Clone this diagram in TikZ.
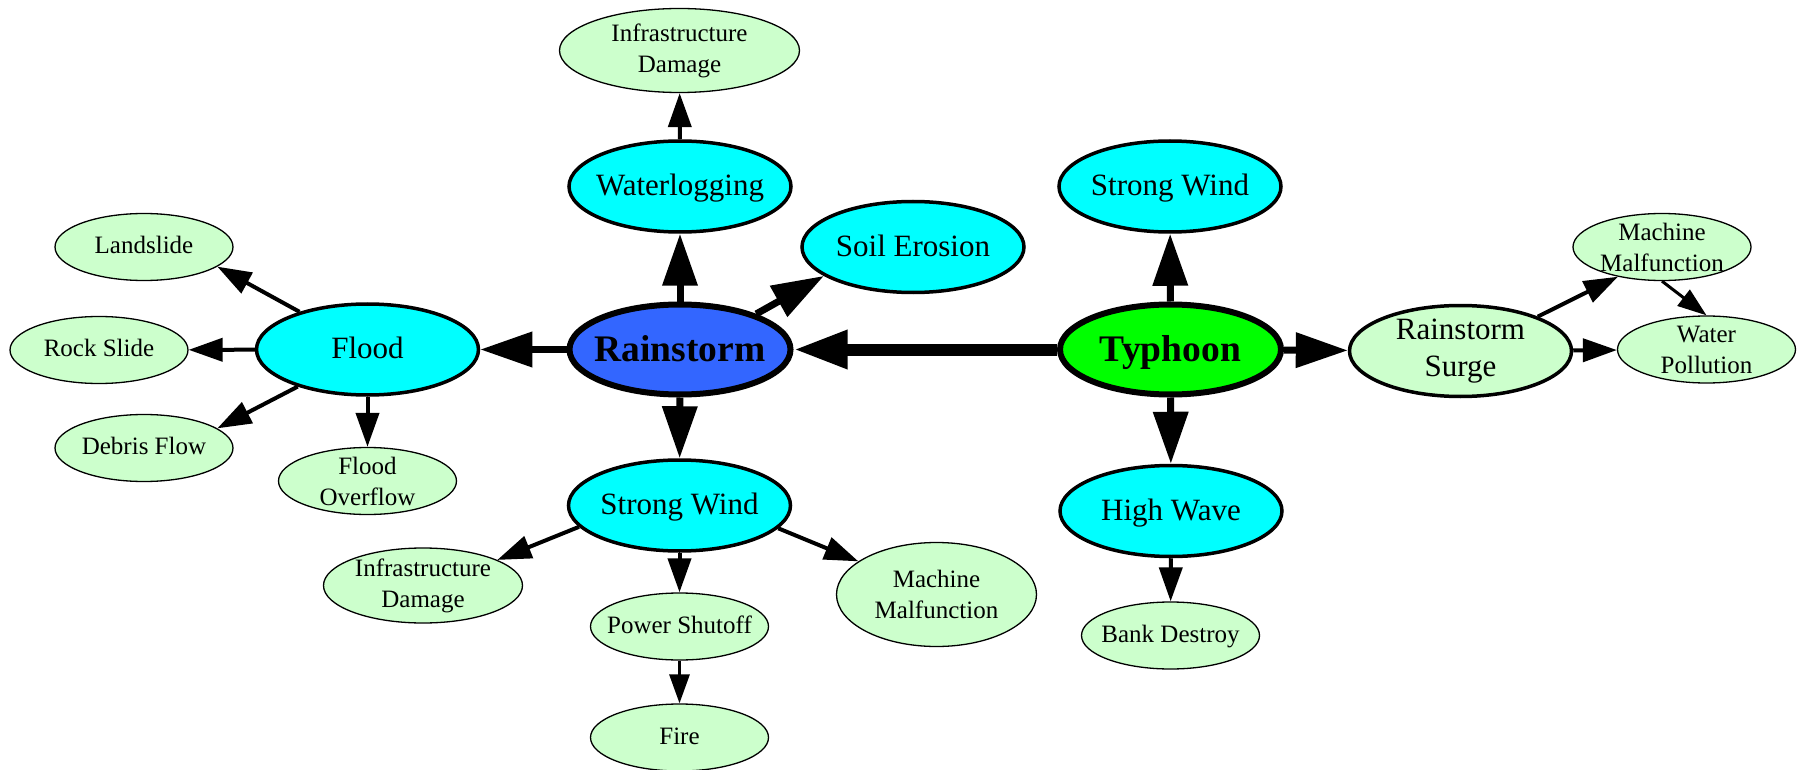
\documentclass[tikz,border=0pt]{standalone}
\usepackage{fontspec}
\setmainfont{Liberation Serif}
\usetikzlibrary{shapes.geometric,arrows.meta}
\definecolor{rainblue}{HTML}{3366FF}
\definecolor{tygreen}{HTML}{00FF00}
\definecolor{cyanc}{HTML}{00FFFF}
\definecolor{lgreen}{HTML}{CCFFCC}
\begin{document}
\begin{tikzpicture}[x=1pt,y=-1pt,
  basenode/.style={ellipse, draw=black, inner sep=0pt},
  mainnode/.style={basenode, line width=6pt, minimum width=221pt, minimum height=90pt},
  midnode/.style={basenode, fill=cyanc, line width=3.5pt, minimum width=222pt, minimum height=91pt},
  smallnode/.style={basenode, fill=lgreen, line width=1.3pt, minimum width=178pt, minimum height=67pt},
  bigfont/.style={font=\fontsize{37.5}{45}\selectfont\bfseries, text height=31.9pt, text depth=7.5pt},
  midfont/.style={font=\fontsize{31}{37}\selectfont, align=center},
  midone/.style={font=\fontsize{31}{37}\selectfont, text height=24.8pt, text depth=6.2pt},
  smallfont/.style={font=\fontsize{25}{31}\selectfont, align=center},
  smallone/.style={font=\fontsize{25}{31}\selectfont, text height=18.75pt, text depth=5pt},
  bl/.style={label={[bigfont]center:#1}},
  ml/.style={label={[midone]center:#1}},
  mml/.style={label={[midfont]center:#1}},
  sl/.style={label={[smallone]center:#1}},
  ssl/.style={label={[smallfont]center:#1}},
  heavyedge/.style={line width=12pt, -{Triangle[length=54pt,width=36pt]}},
  thickedge/.style={line width=7pt, -{Triangle[length=52pt,width=34pt]}},
  medgeedge/.style={line width=4pt, -{Triangle[length=34pt,width=23pt]}},
  thinedge/.style={line width=3pt, -{Triangle[length=29pt,width=20pt]}}
]
\useasboundingbox (0,0) rectangle (1800,770);
% main nodes
\node[mainnode, fill=rainblue, bl=Rainstorm] (rain) at (680,349.5) {};
\node[mainnode, fill=tygreen, bl=Typhoon] (typhoon) at (1170.5,349.5) {};
% cyan nodes
\node[midnode, ml=Waterlogging] (water) at (680,186.5) {};
\node[midnode, ml=Soil Erosion] (soil) at (913,247) {};
\node[midnode, ml=Strong Wind] (windtop) at (1170,186.5) {};
\node[midnode, ml=Flood] (flood) at (367.5,349.5) {};
\node[midnode, ml=Strong Wind] (windbot) at (679.5,505.5) {};
\node[midnode, ml=High Wave] (wave) at (1171,511) {};
\node[midnode, fill=lgreen, mml={Rainstorm\\Surge}] (surge) at (1460.5,351) {};
% small nodes
\node[smallnode, minimum width=240pt, minimum height=84pt, ssl={Infrastructure\\Damage}] (infratop) at (679.5,50.5) {};
\node[smallnode, sl=Landslide] (landslide) at (144,247) {};
\node[smallnode, sl=Rock Slide] (rock) at (99,350) {};
\node[smallnode, sl=Debris Flow] (debris) at (144,448) {};
\node[smallnode, ssl={Flood\\Overflow}] (overflow) at (367.5,481) {};
\node[smallnode, minimum width=199pt, minimum height=75pt, ssl={Infrastructure\\Damage}] (infrabot) at (423,585.5) {};
\node[smallnode, minimum width=200pt, minimum height=104pt, ssl={Machine\\Malfunction}] (mmbot) at (936.5,594.5) {};
\node[smallnode, sl=Power Shutoff] (power) at (679.5,626.5) {};
\node[smallnode, sl=Fire] (fire) at (679.5,737.5) {};
\node[smallnode, sl=Bank Destroy] (bank) at (1170.5,635.5) {};
\node[smallnode, ssl={Machine\\Malfunction}] (mmright) at (1662,247) {};
\node[smallnode, ssl={Water\\Pollution}] (wp) at (1706.5,349.5) {};
% edges
\draw[heavyedge] (typhoon) -- (rain);
\draw[thickedge] (rain) -- (flood);
\draw[thickedge] (rain) -- (water);
\draw[thickedge] (rain.25.3) -- (soil.198.6);
\draw[thickedge] (rain) -- (windbot);
\draw[thickedge] (typhoon) -- (windtop);
\draw[thickedge] (typhoon) -- (wave);
\draw[thickedge] (typhoon) -- (surge);
\draw[medgeedge] (water) -- (infratop);
\draw[medgeedge] (flood.151.4) -- (landslide.-15.3);
\draw[medgeedge] (flood) -- (rock);
\draw[medgeedge] (flood.208.6) -- (debris.15.1);
\draw[medgeedge] (flood) -- (overflow);
\draw[medgeedge] (windbot.192.5) -- (infrabot.19.7);
\draw[medgeedge] (windbot) -- (power);
\draw[medgeedge] (windbot.-13.2) -- (mmbot.157.1);
\draw[medgeedge] (wave) -- (bank);
\draw[medgeedge] (surge.24.4) -- (mmright.214.9);
\draw[medgeedge] (surge) -- (wp);
\draw[thinedge] (power) -- (fire);
\draw[thinedge] (mmright.south) -- (wp.north);
\end{tikzpicture}
\end{document}
